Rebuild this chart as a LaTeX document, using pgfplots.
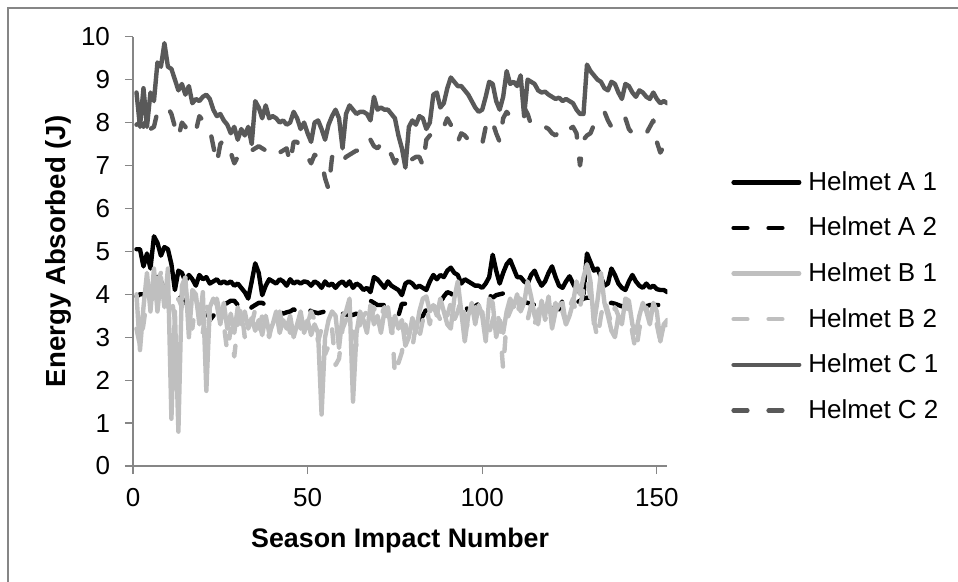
\documentclass[border=0pt]{standalone}
\usepackage{pgfplots}
\usepackage{pgfplotstable}
\usepackage{fontspec}
\pgfplotsset{compat=1.18}
\setmainfont{Liberation Sans}

\definecolor{axisgray}{HTML}{868686}
\definecolor{helmetA}{HTML}{000000}
\definecolor{helmetB}{HTML}{BFBFBF}
\definecolor{helmetC}{HTML}{595959}

\newcommand\tickfont{\fontsize{13bp}{15bp}\selectfont}
\newcommand\labelfont{\fontsize{13.4bp}{15bp}\selectfont\bfseries}
\newcommand\ylabelfont{\fontsize{13.8bp}{15bp}\selectfont\bfseries}

% energy absorbed per impact, two trials for each helmet model
\pgfplotstableread{
i A1 A2 B1 B2 C1 C2
1 5.05 3.95 4.0 3.2 8.7 7.95
2 5.05 4.0 2.7 2.8 7.9 8.0
3 4.65 4.0 3.7 3.3 8.8 7.9
4 4.95 4.05 4.5 3.9 7.9 8.15
5 4.6 4.1 3.6 4.1 8.7 7.85
6 5.35 4.45 4.6 3.8 8.5 7.9
7 5.2 4.4 3.6 4.3 9.4 8.25
8 4.9 4.3 4.4 4.5 9.3 8.3
9 5.1 4.1 3.7 4.0 9.85 8.3
10 5.05 4.0 4.6 3.7 9.3 8.35
11 4.7 3.95 1.1 3.95 9.25 8.2
12 4.1 4.0 3.6 3.4 9.0 7.9
13 4.55 3.95 0.8 3.9 8.75 7.65
14 4.5 3.9 4.2 3.7 8.9 8.0
15 4.3 3.8 4.4 4.2 8.65 7.9
16 4.45 3.75 3.0 3.6 8.85 7.75
17 4.35 3.75 4.1 3.2 8.45 7.7
18 4.2 3.8 4.0 3.9 8.55 7.8
19 4.45 3.75 3.3 3.5 8.5 8.15
20 4.35 3.7 4.05 3.1 8.6 8.05
21 4.4 3.65 1.75 3.8 8.65 7.95
22 4.25 3.4 3.7 3.4 8.55 7.85
23 4.3 3.5 3.9 3.6 8.3 7.45
24 4.35 3.7 3.75 3.9 8.15 7.05
25 4.25 3.8 3.3 3.5 8.2 7.5
26 4.3 3.75 3.8 3.3 8.05 7.6
27 4.25 3.8 3.2 2.65 7.95 7.4
28 4.3 3.85 3.55 3.2 7.75 7.3
29 4.2 3.85 3.1 2.55 7.9 7.05
30 4.25 3.75 3.7 3.3 7.6 7.2
31 4.15 3.7 3.3 3.7 7.85 7.3
32 4.05 3.55 3.6 3.0 7.7 7.35
33 3.9 3.6 3.2 3.4 7.9 7.3
34 4.3 3.7 3.45 3.3 7.5 7.35
35 4.72 3.75 3.15 3.65 8.5 7.4
36 4.5 3.8 3.4 3.2 8.35 7.45
37 3.98 3.8 3.05 3.5 8.1 7.4
38 4.2 3.75 3.5 3.3 8.4 7.35
39 4.35 3.75 3.1 3.0 8.1 7.35
40 4.3 3.7 3.3 3.4 8.15 7.25
41 4.25 3.65 3.6 3.3 8.1 7.2
42 4.35 3.6 3.1 3.6 8.0 7.3
43 4.3 3.55 3.4 3.2 8.05 7.35
44 4.2 3.58 3.2 3.4 7.95 7.4
45 4.35 3.6 3.5 3.1 8.0 7.05
46 4.25 3.65 3.0 3.5 8.25 7.55
47 4.3 3.6 3.3 3.4 8.1 7.55
48 4.25 3.65 3.6 3.2 7.85 7.4
49 4.3 3.75 3.1 3.5 8.0 7.3
50 4.28 3.7 3.4 3.3 7.75 7.2
51 4.2 3.6 3.05 3.6 7.55 7.05
52 4.3 3.58 3.3 3.4 8.0 7.25
53 4.25 3.56 3.1 2.9 8.05 7.2
54 4.15 3.58 1.2 3.2 7.85 7.1
55 4.3 3.6 3.0 2.6 7.6 6.7
56 4.2 3.62 3.4 2.8 7.95 6.45
57 4.25 3.62 3.6 3.2 8.15 7.2
58 4.15 3.55 3.5 2.35 8.3 7.15
59 4.25 3.52 2.75 2.5 8.1 7.0
60 4.3 3.55 3.5 3.2 7.4 7.1
61 4.2 3.53 3.6 3.4 8.2 7.2
62 4.3 3.52 3.9 3.5 8.4 7.25
63 4.15 3.52 1.5 3.3 8.3 7.3
64 4.25 3.55 3.1 2.8 8.2 7.35
65 4.2 3.6 3.6 3.3 8.25 7.3
66 4.1 3.75 3.4 3.5 8.25 7.35
67 4.15 3.85 3.1 3.6 8.2 7.4
68 4.05 3.85 3.75 3.3 8.05 7.6
69 4.4 3.8 3.3 3.7 8.6 7.45
70 4.35 3.75 3.5 3.4 8.3 7.4
71 4.25 3.75 3.1 3.5 8.35 7.5
72 4.15 3.75 3.6 3.7 8.3 7.55
73 4.3 3.7 3.7 3.3 8.3 7.35
74 4.2 3.6 3.1 3.5 8.2 7.25
75 4.15 3.5 3.5 2.1 8.1 7.05
76 4.1 3.5 3.2 2.4 7.7 7.2
77 3.98 3.78 3.4 2.65 7.4 7.15
78 4.25 3.78 2.8 3.3 6.95 7.05
79 4.3 3.7 3.0 3.0 7.9 7.1
80 4.25 3.55 3.45 2.75 8.05 7.15
81 4.15 3.45 3.1 3.3 7.95 7.2
82 4.2 3.38 3.6 3.0 8.15 7.2
83 4.15 3.5 3.9 3.4 8.1 7.0
84 4.1 3.65 3.95 3.7 7.85 7.6
85 4.3 3.72 3.6 3.3 8.0 7.7
86 4.45 3.75 3.75 3.8 8.65 7.75
87 4.35 3.76 3.5 3.6 8.7 7.75
88 4.45 3.8 3.9 3.4 8.35 7.75
89 4.4 3.95 3.6 3.7 8.45 7.9
90 4.55 4.05 3.3 3.5 8.8 8.1
91 4.62 4.02 3.2 3.8 9.05 7.95
92 4.5 3.95 3.9 3.4 8.95 7.75
93 4.45 3.85 4.3 3.6 8.85 7.55
94 4.25 3.78 3.6 3.9 8.85 7.75
95 4.35 3.75 2.9 3.5 8.75 7.7
96 4.3 3.62 3.5 3.2 8.65 7.6
97 4.25 3.68 3.8 3.55 8.5 7.55
98 4.2 3.72 3.3 3.7 8.35 7.5
99 4.2 3.78 3.75 3.3 8.25 7.45
100 4.15 3.95 3.5 3.6 8.3 7.5
101 4.25 4.05 2.9 3.0 8.6 7.9
102 4.4 3.98 3.9 3.1 8.95 8.1
103 4.92 3.92 3.8 3.4 8.9 8.0
104 4.55 3.98 3.0 3.7 8.5 7.75
105 4.25 4.0 3.4 3.3 8.3 7.55
106 4.5 4.02 3.1 2.25 8.6 8.1
107 4.7 4.05 3.6 3.4 9.2 8.25
108 4.8 4.05 3.9 3.6 8.9 8.15
109 4.6 3.98 3.7 3.8 8.95 8.2
110 4.4 3.9 4.0 3.5 8.85 8.3
111 4.4 3.85 3.6 3.9 9.1 8.3
112 4.3 3.82 3.8 3.6 8.15 8.35
113 4.25 3.8 4.3 3.4 9.0 8.2
114 4.45 3.78 3.95 3.75 8.95 7.95
115 4.55 3.75 3.5 3.3 8.9 7.9
116 4.35 3.78 3.3 3.6 8.75 7.85
117 4.2 3.75 3.85 3.9 8.7 7.85
118 4.3 3.72 3.5 3.4 8.72 7.9
119 4.5 3.7 3.95 3.65 8.65 7.85
120 4.65 3.68 3.2 3.5 8.6 7.75
121 4.4 3.7 3.6 3.8 8.55 7.7
122 4.2 3.65 3.75 3.4 8.58 7.8
123 4.15 3.85 3.8 3.6 8.5 7.7
124 4.3 3.95 3.3 3.3 8.55 7.8
125 4.42 3.9 3.5 3.7 8.5 7.85
126 4.25 3.85 3.8 3.9 8.45 7.9
127 4.1 3.8 4.3 3.5 8.3 7.75
128 4.05 3.85 4.0 3.7 8.2 7.0
129 4.0 3.9 4.4 4.1 8.2 7.6
130 4.95 3.92 4.7 4.4 9.35 7.7
131 4.75 3.92 4.3 3.9 9.2 7.75
132 4.55 3.9 3.3 3.4 9.1 7.95
133 4.6 3.85 3.85 2.95 9.0 8.0
134 4.4 3.8 4.5 3.5 8.95 8.15
135 4.2 3.8 3.8 3.9 8.8 8.25
136 4.25 3.78 3.5 3.6 8.75 8.05
137 4.6 3.8 3.15 3.3 8.95 7.9
138 4.45 3.78 3.0 3.7 8.9 7.85
139 4.25 3.75 3.5 3.5 8.7 7.9
140 4.15 3.72 3.3 3.3 8.55 8.0
141 4.1 3.72 3.9 3.8 8.9 8.1
142 4.3 3.75 3.85 3.6 8.85 7.85
143 4.45 3.75 3.3 3.1 8.7 7.75
144 4.3 3.75 3.1 2.65 8.6 7.8
145 4.2 3.72 3.5 3.2 8.75 7.85
146 4.15 3.7 3.8 3.5 8.7 7.8
147 4.25 3.72 3.6 3.7 8.6 7.75
148 4.15 3.75 3.3 3.4 8.55 7.9
149 4.2 3.75 3.8 3.6 8.7 8.05
150 4.12 3.75 3.6 3.3 8.55 7.55
151 4.1 3.75 2.9 2.9 8.45 7.3
152 4.1 3.63 3.3 3.1 8.5 7.45
153 4.05 3.63 3.4 3.4 8.45 7.45
}\impacts

\tikzset{
  solidseries/.style={line width=2.2bp, line join=round, line cap=round},
  dashedseries/.style={line width=2.2bp, line join=round, line cap=round,
    dash pattern=on 6.9bp off 10.6bp},
}

\begin{document}
\begin{tikzpicture}
\useasboundingbox (0,0) rectangle (479bp,-291bp);
% chart area border
\draw[axisgray, line width=1bp] (4.15bp,-300bp) -- (4.15bp,-4.15bp) -- (490bp,-4.15bp);
\begin{axis}[
  at={(66.5bp,-233bp)}, anchor=south west,
  scale only axis, width=267.15bp, height=214.65bp,
  xmin=0, xmax=153, ymin=0, ymax=10,
  axis x line=bottom, axis y line=left,
  axis line style={-, axisgray, line width=0.6bp},
  every tick/.style={axisgray, line width=0.6bp},
  tick align=outside, major tick length=4bp,
  xtick={0,50,100,150}, ytick={0,1,...,10},
  /pgf/number format/assume math mode=true,
  tick label style={font=\tickfont},
  xticklabel style={yshift=-3.5bp},
  yticklabel style={xshift=-4bp},
  xlabel={Season Impact Number},
  ylabel={Energy Absorbed (J)},
  xlabel style={font=\labelfont, at={(axis description cs:0.5,-0.1887)}, anchor=base},
  ylabel style={font=\ylabelfont, at={(axis description cs:-0.1404,0.5)}, anchor=center},
  legend style={draw=none, fill=none, inner sep=0pt,
    at={(axis description cs:1.1192,0.6872)}, anchor=north west,
    font=\tickfont, row sep=11.9bp, column sep=3.5bp,
    nodes={inner sep=0pt, anchor=west}},
  legend cell align=left,
  legend image code/.code={\draw[#1] (1.1bp,0bp) -- (33.9bp,0bp);},
]
\addplot[helmetA, no markers, solidseries] table[x=i, y=A1] {\impacts};
\addplot[helmetA, no markers, dashedseries] table[x=i, y=A2] {\impacts};
\addplot[helmetB, no markers, solidseries] table[x=i, y=B1] {\impacts};
\addplot[helmetB, no markers, dashedseries] table[x=i, y=B2] {\impacts};
\addplot[helmetC, no markers, solidseries] table[x=i, y=C1] {\impacts};
\addplot[helmetC, no markers, dashedseries] table[x=i, y=C2] {\impacts};
\legend{Helmet A 1, Helmet A 2, Helmet B 1, Helmet B 2, Helmet C 1, Helmet C 2}
\end{axis}
\end{tikzpicture}
\end{document}
